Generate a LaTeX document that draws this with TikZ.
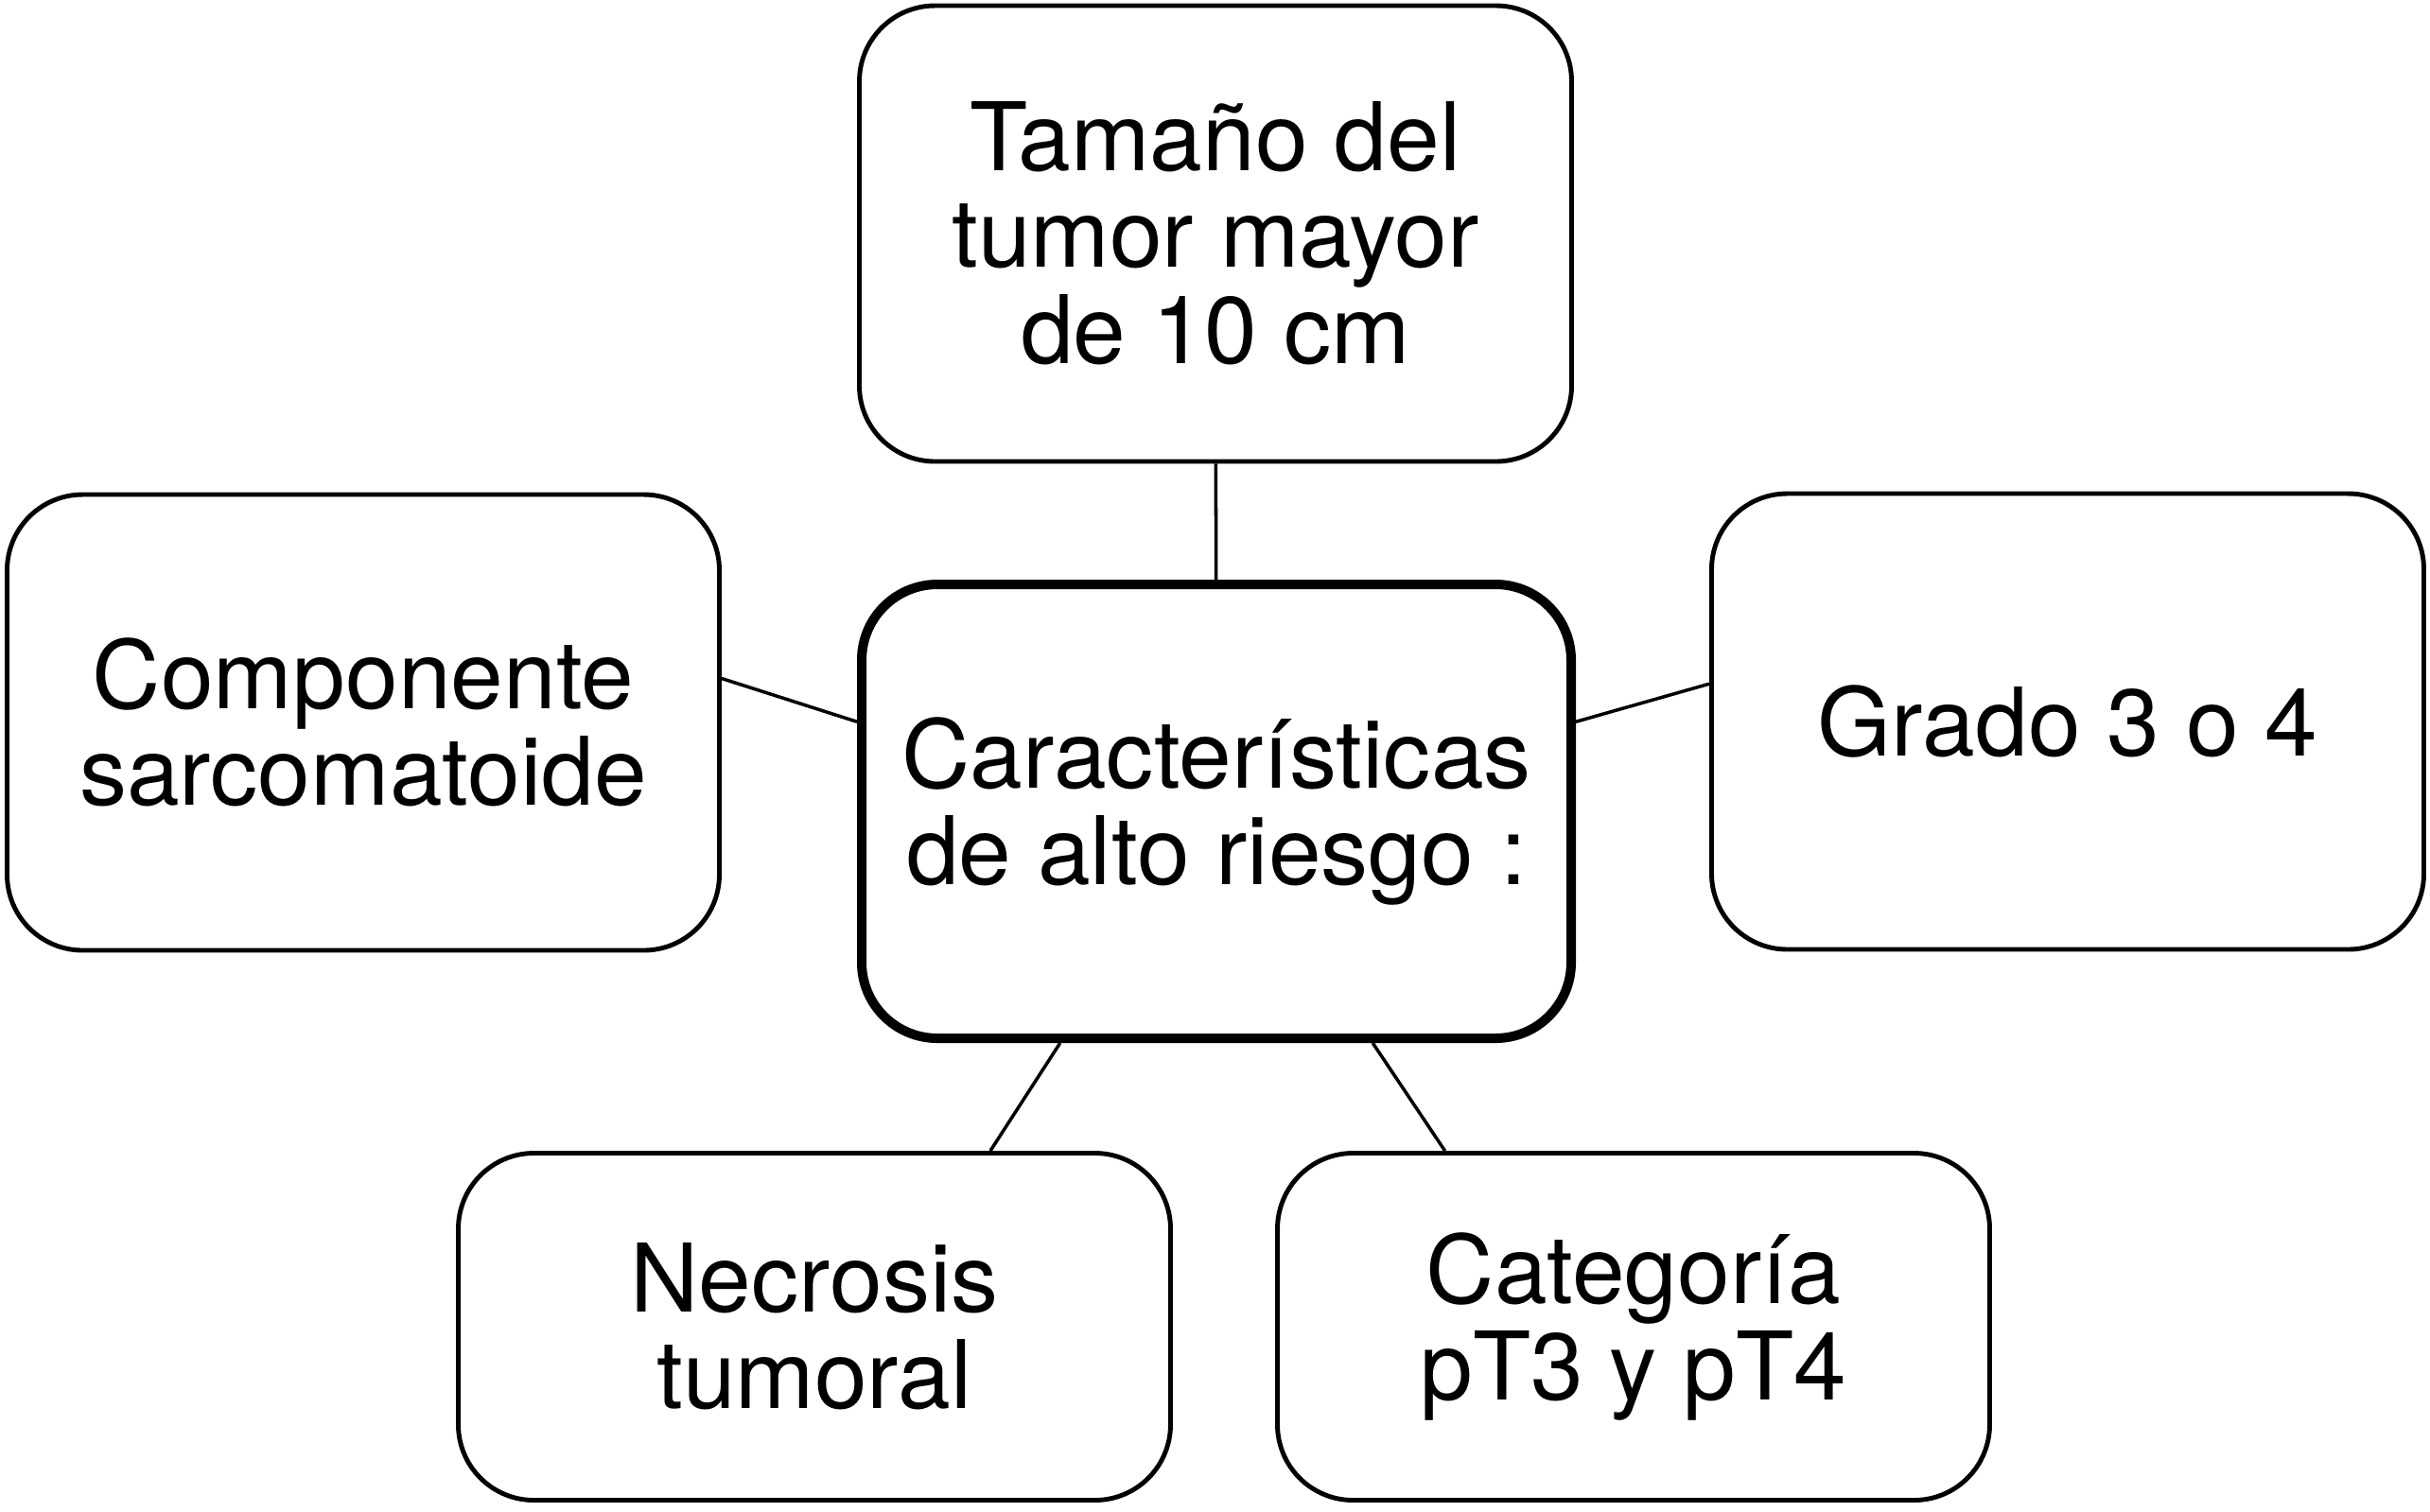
\documentclass[tikz,border=0pt]{standalone}
\usepackage{fontspec}
\setmainfont{TeX Gyre Heros}
\usepackage{tikz}
\usetikzlibrary{positioning}

\begin{document}
\begin{tikzpicture}[font=\fontsize{28.5}{29}\selectfont,
  box/.style={draw,line width=1.4pt,rounded corners=0.8cm,align=center,inner sep=0pt,
    minimum width=7.53cm,minimum height=4.82cm},
  hub/.style={box,line width=2.85pt,minimum width=7.5cm,minimum height=4.8cm},
  link/.style={line width=1pt}]
  \useasboundingbox (0,0) rectangle (25.69,-15.98);
  \node[hub] (ctr) at (12.86,-8.58) {Características\\de alto riesgo :};
  \node[box] (tam) at (12.85,-2.47) {Tamaño del\\tumor mayor\\de 10 cm};
  \node[box] (sarc) at (3.84,-7.64) {Componente\\sarcomatoide};
  \node[box] (grado) at (21.86,-7.63) {Grado 3 o 4};
  \node[box,minimum height=3.67cm] (necr) at (8.61,-14.03) {Necrosis\\tumoral};
  \node[box,minimum height=3.67cm] (cat) at (17.27,-14.03) {Categoría\\pT3 y pT4};
  \draw[link] (tam) -- (ctr);
  \draw[link] (sarc.7) -- (ctr.166);
  \draw[link] (grado.174) -- (ctr.14);
  \draw[link] (necr.45) -- (ctr.236);
  \draw[link] (cat.137) -- (ctr.304);
\end{tikzpicture}
\end{document}
